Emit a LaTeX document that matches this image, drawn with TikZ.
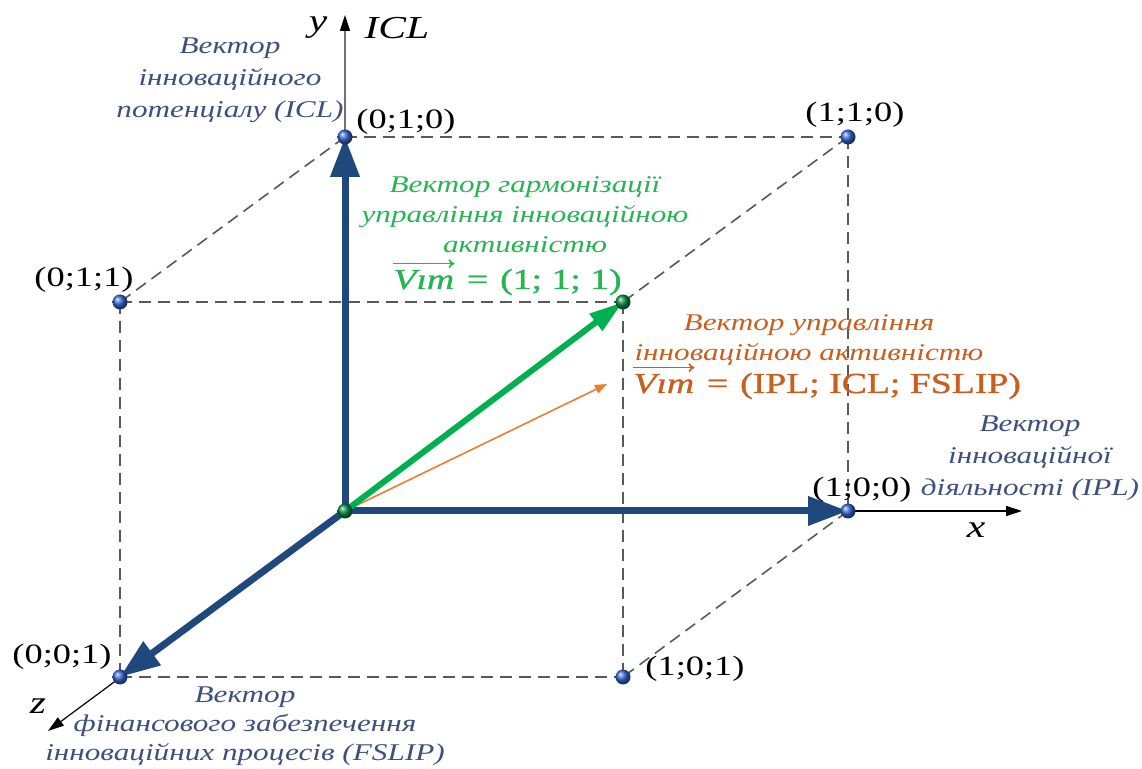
\documentclass[tikz,border=0pt]{standalone}
\usepackage{fontspec}
\setmainfont{Liberation Serif}[FakeStretch=1.3]
\newfontfamily\formfont{Liberation Serif}[FakeStretch=1.3, FakeBold=1.2]
\usetikzlibrary{arrows.meta}
\definecolor{axblue}{RGB}{31,73,125}
\definecolor{txtblue}{RGB}{62,80,125}
\definecolor{vgreen}{RGB}{0,176,80}
\definecolor{tgreen}{RGB}{40,180,85}
\definecolor{vorange}{RGB}{237,125,49}
\definecolor{torange}{RGB}{200,95,30}
\definecolor{dotblue}{RGB}{50,100,210}
\begin{document}
\begin{tikzpicture}[x=0.5pt,y=-0.5pt,
  dashedge/.style={draw=black!65, line width=0.8pt, dash pattern=on 6pt off 3.5pt},
  axisline/.style={draw=black, line width=0.6pt, -{Triangle[length=8pt,width=5pt,color=black]}},
  bigvec/.style={draw=axblue, line width=3.5pt, -{Triangle[length=20pt,width=14pt]}},
  greenvec/.style={draw=vgreen, line width=3pt, -{Triangle[length=17pt,width=10pt]}},
  orangevec/.style={draw=vorange, line width=0.8pt, -{Triangle[length=6pt,width=4.5pt]}},
  overarrow/.style={line width=0.8pt, -{To[length=3pt,width=4.5pt]}},
  dot/.style={circle, inner sep=0pt, minimum size=7.5pt, shading=ball, ball color=dotblue},
  gdot/.style={circle, inner sep=0pt, minimum size=7.5pt, shading=ball, ball color=vgreen!80!black},
  coordlbl/.style={inner sep=0pt, font=\fontsize{14}{16}\selectfont},
  axlbl/.style={inner sep=0pt, font=\fontsize{16}{18}\selectfont\itshape},
  bluetxt/.style={inner sep=0pt, align=center, text=txtblue, font=\fontsize{12}{16}\selectfont\itshape},
  greentxt/.style={inner sep=0pt, align=center, text=tgreen, font=\fontsize{12}{15}\selectfont\itshape},
  orangetxt/.style={inner sep=0pt, align=center, text=torange, font=\fontsize{12}{15}\selectfont\itshape},
  formula/.style={inner sep=0pt, anchor=base west, font=\formfont\fontsize{14.5}{16}\selectfont}
]
\useasboundingbox (0,0) rectangle (1142,769);
% corner coordinates
\coordinate (O) at (345,511);
\coordinate (c010) at (345,137);
\coordinate (c110) at (848,137);
\coordinate (c011) at (120,302);
\coordinate (c111) at (623,302);
\coordinate (c100) at (848,511);
\coordinate (c001) at (120,677);
\coordinate (c101) at (623,677);
\coordinate (ytip) at (345,15);
\coordinate (xtip) at (1022,511);
\coordinate (ztip) at (48,731);
\coordinate (otip) at (607,384);
% dashed cube edges
\draw[dashedge] (c010) -- (c110);
\draw[dashedge] (c010) -- (c011);
\draw[dashedge] (c110) -- (c111);
\draw[dashedge] (c011) -- (c111);
\draw[dashedge] (c110) -- (c100);
\draw[dashedge] (c011) -- (c001);
\draw[dashedge] (c111) -- (c101);
\draw[dashedge] (c100) -- (c101);
\draw[dashedge] (c001) -- (c101);
% axes
\draw[axisline, draw=black!55] (O) -- (ytip);
\draw[axisline] (O) -- (xtip);
\draw[axisline] (O) -- (ztip);
% vectors
\draw[bigvec] (O) -- (c010);
\draw[bigvec] (O) -- (c100);
\draw[bigvec] (O) -- (c001);
\draw[orangevec] (O) -- (otip);
\draw[greenvec] (O) -- (c111);
% dots
\node[dot] (d010) at (c010) {};
\node[dot] (d110) at (c110) {};
\node[dot] (d011) at (c011) {};
\node[gdot] (d111) at (c111) {};
\node[dot] (d100) at (c100) {};
\node[dot] (d001) at (c001) {};
\node[dot] (d101) at (c101) {};
\node[gdot] (dO) at (O) {};
% coordinate labels
\node[coordlbl] (l010) at (406,122) {(0;1;0)};
\node[coordlbl] (l110) at (855,115) {(1;1;0)};
\node[coordlbl] (l011) at (84,280) {(0;1;1)};
\node[coordlbl] (l100) at (862,490) {(1;0;0)};
\node[coordlbl] (l001) at (62,657) {(0;0;1)};
\node[coordlbl] (l101) at (695,669) {(1;0;1)};
% axis labels
\node[axlbl] (ly) at (318,28) {y};
\node[axlbl] (lICL) at (397,28) {ICL};
\node[axlbl] (lx) at (976,530) {x};
\node[axlbl] (lz) at (38,706) {z};
% blue descriptions
\node[bluetxt] (tICL) at (230,80) {Вектор\\інноваційного\\потенціалу (ICL)};
\node[bluetxt] (tIPL) at (1030,458) {Вектор\\інноваційної\\діяльності (IPL)};
\node[bluetxt, font=\fontsize{12}{14.5}\selectfont\itshape] (tFS) at (245,726) {Вектор\\фінансового забезпечення\\інноваційних процесів (FSLIP)};
% green description
\node[greentxt] (tG) at (525,215) {Вектор гармонізації\\управління інноваційною\\активністю};
\node[formula, text=tgreen] (fGv) at (393,289) {\itshape Vım};
\node[formula, text=tgreen, xshift=6pt] (fGr) at (fGv.base east) {=\hspace{6pt}(1; 1; 1)};
\draw[overarrow, draw=tgreen] ([yshift=3pt]fGv.north west) -- ([yshift=3pt]fGv.north east);
% orange description
\node[orangetxt] (tO) at (809,340) {Вектор управління\\інноваційною активністю};
\node[formula, text=torange] (fOv) at (633,393) {\itshape Vım};
\node[formula, text=torange, xshift=6pt] (fOr) at (fOv.base east) {=\hspace{6pt}(IPL; ICL; FSLIP)};
\draw[overarrow, draw=torange] ([yshift=3pt]fOv.north west) -- ([yshift=3pt]fOv.north east);
\end{tikzpicture}
\end{document}
